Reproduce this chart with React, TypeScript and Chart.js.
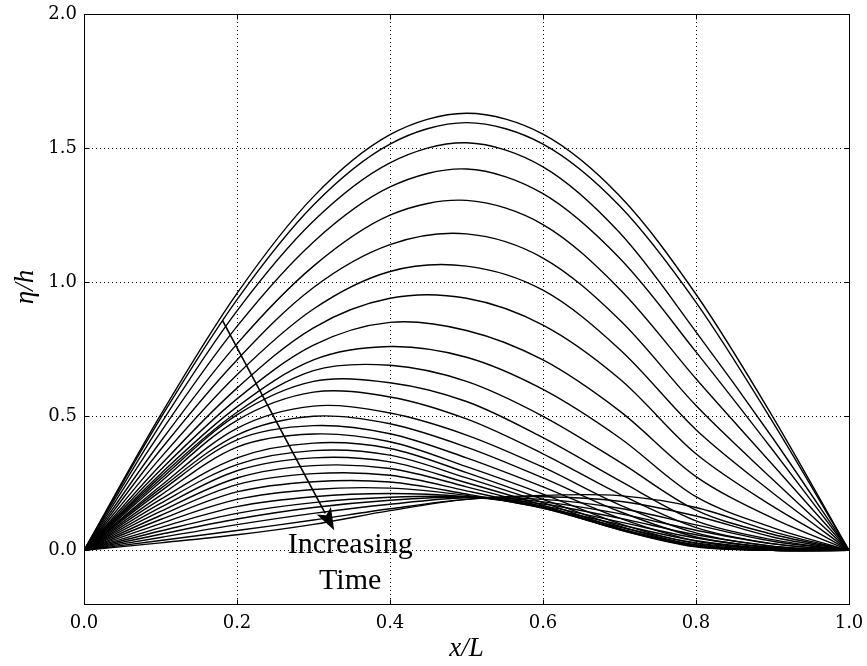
import React, { useEffect, useRef } from 'react';
import { Chart, registerables } from 'chart.js';

Chart.register(...registerables);

// x/L sample positions
const xPositions = [0, 0.1, 0.2, 0.3, 0.4, 0.5, 0.6, 0.7, 0.8, 0.9, 1.0];
const xTicks = [0, 0.2, 0.4, 0.6, 0.8, 1.0];
const yTicks = [0, 0.5, 1.0, 1.5, 2.0];
const xRange = [0, 1];
const yRange = [-0.2, 2.0];

// eta/h profiles, in order of increasing time
const t01 = [0, 0.504, 0.958, 1.319, 1.550, 1.630, 1.552, 1.322, 0.955, 0.500, 0];
const t02 = [0, 0.492, 0.935, 1.288, 1.515, 1.595, 1.515, 1.285, 0.925, 0.480, 0];
const t03 = [0, 0.470, 0.893, 1.228, 1.445, 1.520, 1.430, 1.185, 0.815, 0.420, 0];
const t04 = [0, 0.440, 0.835, 1.150, 1.355, 1.422, 1.330, 1.090, 0.740, 0.375, 0];
const t05 = [0, 0.405, 0.770, 1.060, 1.250, 1.305, 1.215, 0.975, 0.640, 0.320, 0];
const t06 = [0, 0.375, 0.710, 0.980, 1.140, 1.180, 1.090, 0.860, 0.540, 0.265, 0];
const t07 = [0, 0.345, 0.655, 0.900, 1.040, 1.060, 0.970, 0.750, 0.450, 0.215, 0];
const t08 = [0, 0.318, 0.605, 0.830, 0.940, 0.940, 0.840, 0.640, 0.360, 0.165, 0];
const t09 = [0, 0.300, 0.565, 0.765, 0.850, 0.820, 0.710, 0.520, 0.275, 0.120, 0];
const t10 = [0, 0.285, 0.535, 0.710, 0.760, 0.720, 0.600, 0.420, 0.200, 0.085, 0];
const t11 = [0, 0.275, 0.515, 0.670, 0.690, 0.630, 0.500, 0.330, 0.150, 0.060, 0];
const t12 = [0, 0.265, 0.505, 0.630, 0.625, 0.555, 0.420, 0.260, 0.110, 0.040, 0];
const t13 = [0, 0.255, 0.485, 0.590, 0.572, 0.490, 0.360, 0.210, 0.085, 0.025, 0];
const t14 = [0, 0.240, 0.455, 0.538, 0.512, 0.430, 0.310, 0.170, 0.065, 0.015, 0];
const t15 = [0, 0.230, 0.430, 0.500, 0.472, 0.385, 0.270, 0.145, 0.050, 0.010, 0];
const t16 = [0, 0.220, 0.412, 0.465, 0.435, 0.345, 0.237, 0.120, 0.035, 0.005, 0];
const t17 = [0, 0.205, 0.385, 0.434, 0.405, 0.312, 0.210, 0.100, 0.025, 0.000, 0];
const t18 = [0, 0.190, 0.345, 0.400, 0.380, 0.290, 0.190, 0.090, 0.020, 0.000, 0];
const t19 = [0, 0.175, 0.320, 0.372, 0.355, 0.270, 0.178, 0.082, 0.016, 0.000, 0];
const t20 = [0, 0.160, 0.297, 0.345, 0.330, 0.252, 0.168, 0.077, 0.013, 0.000, 0];
const t21 = [0, 0.145, 0.270, 0.316, 0.305, 0.237, 0.162, 0.077, 0.015, 0.000, 0];
const t22 = [0, 0.130, 0.245, 0.286, 0.280, 0.222, 0.158, 0.080, 0.020, 0.002, 0];
const t23 = [0, 0.115, 0.218, 0.256, 0.255, 0.210, 0.157, 0.087, 0.028, 0.004, 0];
const t24 = [0, 0.100, 0.190, 0.227, 0.232, 0.205, 0.160, 0.096, 0.036, 0.007, 0];
const t25 = [0, 0.085, 0.163, 0.200, 0.212, 0.200, 0.166, 0.106, 0.046, 0.011, 0];
const t26 = [0, 0.072, 0.138, 0.178, 0.198, 0.200, 0.173, 0.120, 0.058, 0.016, 0];
const t27 = [0, 0.060, 0.117, 0.160, 0.187, 0.199, 0.181, 0.137, 0.075, 0.024, 0];
const t28 = [0, 0.048, 0.096, 0.138, 0.172, 0.196, 0.190, 0.157, 0.095, 0.034, 0];
const t29 = [0, 0.037, 0.074, 0.113, 0.155, 0.190, 0.200, 0.183, 0.128, 0.050, 0];
const t30 = [0, 0.028, 0.058, 0.097, 0.148, 0.190, 0.205, 0.204, 0.160, 0.070, 0];

const profiles = [
  t01, t02, t03, t04, t05, t06, t07, t08, t09, t10,
  t11, t12, t13, t14, t15, t16, t17, t18, t19, t20,
  t21, t22, t23, t24, t25, t26, t27, t28, t29, t30,
];

// annotation (data coordinates)
const arrowFrom = [0.181, 0.858];
const arrowTo = [0.327, 0.075];
const noteLines = ['Increasing', 'Time'];
const noteAnchor = [0.348, -0.011];

const xTitle = 'x/L';
const yTitle = 'η/h';

const TICK_FONT = "'DejaVu Serif'";

const decorPlugin = {
  id: 'decor',
  beforeDatasetsDraw(chart: any) {
    const { ctx, chartArea: a, scales } = chart;
    const sx = scales.x;
    const sy = scales.y;
    ctx.save();
    ctx.strokeStyle = '#000';
    ctx.lineWidth = 1;
    ctx.setLineDash([1, 3]);
    for (const v of xTicks) {
      const px = Math.round(sx.getPixelForValue(v)) + 0.5;
      ctx.beginPath();
      ctx.moveTo(px, a.top);
      ctx.lineTo(px, a.bottom);
      ctx.stroke();
    }
    for (const v of yTicks) {
      const py = Math.round(sy.getPixelForValue(v)) + 0.5;
      ctx.beginPath();
      ctx.moveTo(a.left, py);
      ctx.lineTo(a.right, py);
      ctx.stroke();
    }
    ctx.restore();
  },
  afterDatasetsDraw(chart: any) {
    const { ctx, chartArea: a, scales } = chart;
    const sx = scales.x;
    const sy = scales.y;
    ctx.save();
    ctx.setLineDash([]);
    ctx.strokeStyle = '#000';
    ctx.lineWidth = 1;
    const L = Math.round(a.left) + 0.5;
    const R = Math.round(a.right) + 0.5;
    const T = Math.round(a.top) + 0.5;
    const B = Math.round(a.bottom) + 0.5;
    ctx.strokeRect(L, T, R - L, B - T);
    // inward ticks on all four sides
    const tl = 5;
    ctx.beginPath();
    for (const v of xTicks) {
      const px = Math.round(sx.getPixelForValue(v)) + 0.5;
      ctx.moveTo(px, B);
      ctx.lineTo(px, B - tl);
      ctx.moveTo(px, T);
      ctx.lineTo(px, T + tl);
    }
    for (const v of yTicks) {
      const py = Math.round(sy.getPixelForValue(v)) + 0.5;
      ctx.moveTo(L, py);
      ctx.lineTo(L + tl, py);
      ctx.moveTo(R, py);
      ctx.lineTo(R - tl, py);
    }
    ctx.stroke();

    // arrow
    const x0 = sx.getPixelForValue(arrowFrom[0]);
    const y0 = sy.getPixelForValue(arrowFrom[1]);
    const x1 = sx.getPixelForValue(arrowTo[0]);
    const y1 = sy.getPixelForValue(arrowTo[1]);
    const ang = Math.atan2(y1 - y0, x1 - x0);
    const headLen = 22;
    const headHalf = 8;
    const bx = x1 - headLen * Math.cos(ang);
    const by = y1 - headLen * Math.sin(ang);
    ctx.lineWidth = 1.6;
    ctx.beginPath();
    ctx.moveTo(x0, y0);
    ctx.lineTo(bx + 3 * Math.cos(ang), by + 3 * Math.sin(ang));
    ctx.stroke();
    ctx.fillStyle = '#000';
    ctx.beginPath();
    ctx.moveTo(x1, y1);
    ctx.lineTo(bx + headHalf * Math.sin(ang), by - headHalf * Math.cos(ang));
    ctx.lineTo(bx + 5 * Math.cos(ang), by + 5 * Math.sin(ang));
    ctx.lineTo(bx - headHalf * Math.sin(ang), by + headHalf * Math.cos(ang));
    ctx.closePath();
    ctx.fill();

    // annotation text
    ctx.font = "30px 'Liberation Serif'";
    ctx.textAlign = 'center';
    ctx.textBaseline = 'alphabetic';
    const tx = sx.getPixelForValue(noteAnchor[0]);
    const ty = sy.getPixelForValue(noteAnchor[1]);
    noteLines.forEach((s, i) => ctx.fillText(s, tx, ty + i * 36));

    // axis titles
    ctx.font = "italic 27px 'Liberation Serif'";
    ctx.textAlign = 'center';
    ctx.fillText(xTitle, (a.left + a.right) / 2, 656);
    ctx.save();
    ctx.translate(33, (a.top + a.bottom) / 2 - 22);
    ctx.rotate(-Math.PI / 2);
    ctx.fillText(yTitle, 0, 0);
    ctx.restore();
    ctx.restore();
  },
};

export default function App() {
  const ref = useRef<HTMLCanvasElement | null>(null);
  useEffect(() => {
    if (!ref.current) return;
    const datasets = profiles.map((p, k) => ({
      label: 't' + (k + 1),
      data: xPositions.map((x, i) => ({ x, y: p[i] })),
      borderColor: '#000',
      borderWidth: 1.4,
      pointRadius: 0,
      fill: false,
      tension: 0.33,
    }));
    const chart = new Chart(ref.current, {
      type: 'line',
      data: { datasets },
      options: {
        animation: false,
        responsive: false,
        devicePixelRatio: 1,
        events: [],
        layout: { padding: { top: 14, right: 18, left: 0, bottom: 0 } },
        plugins: { legend: { display: false }, tooltip: { enabled: false } },
        scales: {
          x: {
            type: 'linear',
            min: xRange[0],
            max: xRange[1],
            afterBuildTicks: (s: any) => {
              s.ticks = xTicks.map((v) => ({ value: v }));
            },
            afterFit: (s: any) => {
              s.height = 62;
              s.paddingLeft = 0;
              s.paddingRight = 0;
            },
            grid: { display: false, drawTicks: false },
            border: { display: false },
            ticks: {
              autoSkip: false,
              maxRotation: 0,
              padding: 9,
              color: '#000',
              font: { family: TICK_FONT, size: 18 },
              callback: (v: any) => Number(v).toFixed(1),
            },
          },
          y: {
            type: 'linear',
            min: yRange[0],
            max: yRange[1],
            afterBuildTicks: (s: any) => {
              s.ticks = yTicks.map((v) => ({ value: v }));
            },
            afterFit: (s: any) => {
              s.width = 84;
              s.paddingTop = 0;
              s.paddingBottom = 0;
            },
            grid: { display: false, drawTicks: false },
            border: { display: false },
            ticks: {
              autoSkip: false,
              padding: 7,
              color: '#000',
              font: { family: TICK_FONT, size: 18 },
              callback: (v: any) => Number(v).toFixed(1),
            },
          },
        },
      },
      plugins: [decorPlugin],
    });
    return () => chart.destroy();
  }, []);
  return (
    <div style={{ position: 'fixed', left: 0, top: 0, width: 867, height: 666, background: '#fff' }}>
      <canvas ref={ref} width={867} height={666} />
    </div>
  );
}
